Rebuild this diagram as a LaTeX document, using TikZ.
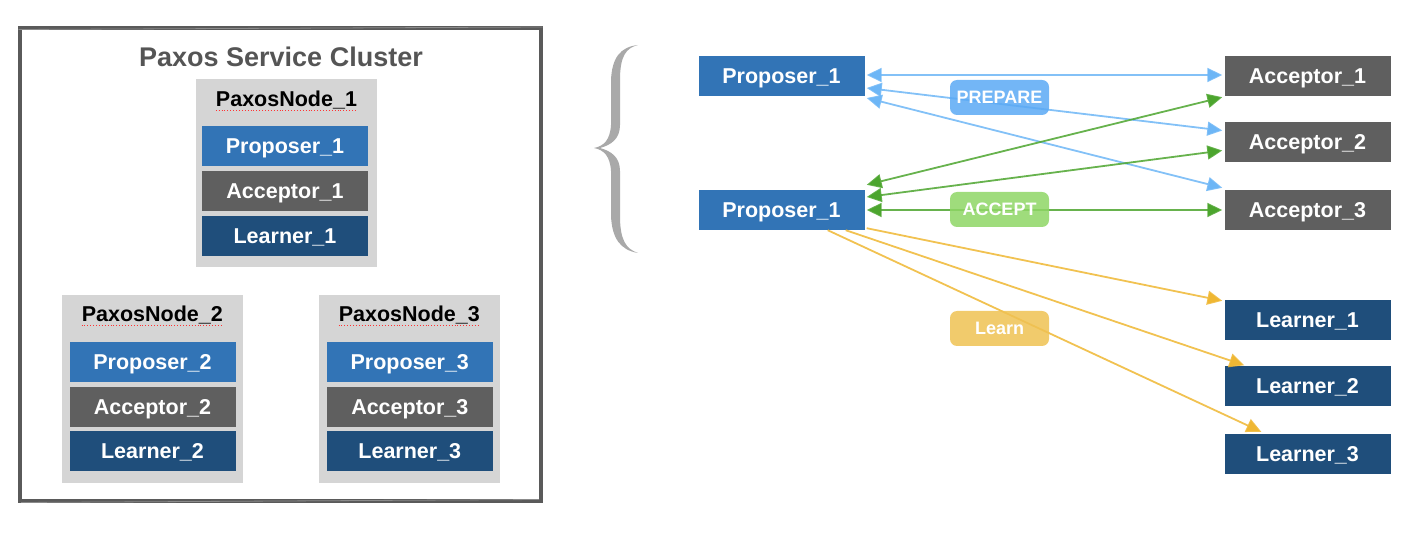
\documentclass[tikz,border=0pt]{standalone}
\usepackage{fontspec}
\setmainfont{Liberation Sans}
\usetikzlibrary{arrows.meta,calc}
\definecolor{propc}{HTML}{3274B6}
\definecolor{accc}{HTML}{5F5F5F}
\definecolor{learnc}{HTML}{1F4E7B}
\definecolor{nodebg}{HTML}{D5D5D5}
\definecolor{framec}{HTML}{5A5A5A}
\definecolor{titlec}{HTML}{555555}
\definecolor{prepc}{HTML}{5AA9F4}
\definecolor{accptc}{HTML}{8ED665}
\definecolor{learnlc}{HTML}{EFC252}
\definecolor{bluearr}{HTML}{6DB6F6}
\definecolor{greenarr}{HTML}{4CA52E}
\definecolor{yelarr}{HTML}{EFB733}
\definecolor{bracec}{HTML}{A9A9A9}
\tikzset{
 rolebox/.style={minimum width=166pt, minimum height=40pt, inner sep=0pt, text=white, text height=15pt, text depth=0pt, font=\fontsize{21.5}{26}\selectfont\bfseries},
 prop/.style={rolebox, fill=propc},
 acc/.style={rolebox, fill=accc},
 lrn/.style={rolebox, fill=learnc},
 pnode/.style={fill=nodebg, minimum width=181pt, minimum height=188pt, inner sep=0pt},
 plabel/.style={font=\fontsize{21.5}{26}\selectfont\bfseries, inner sep=0pt, text height=15pt, text depth=0pt},
 msg/.style={rounded corners=7pt, minimum width=99pt, minimum height=35pt, inner sep=0pt, text=white, text height=12.5pt, text depth=0pt, font=\fontsize{18}{20}\selectfont\bfseries, fill opacity=0.85, text opacity=1},
 arr/.style={line width=1.8pt, draw opacity=0.85},
 spell/.style={draw=red!80, dotted, line width=0.9pt},
 >={Triangle[length=15pt,width=14pt]},
}
\begin{document}
\begin{tikzpicture}[x=1pt,y=-1pt]
\useasboundingbox (0,0) rectangle (1414,534);
% outer cluster frame
\draw[framec, line width=3.2pt] (20,28) rectangle (541,501);
\draw[framec!70, line width=0.8pt] (18.5,29.5) -- (542.5,27) (21,502.5) -- (539,499.5);
\node[font=\fontsize{27}{32}\selectfont\bfseries, text=titlec] (title) at (281,57) {Paxos Service Cluster};
% Paxos node 1
\node[pnode] (n1) at (286.5,173.5) {};
\node[plabel] (l1) at (286.5,99) {PaxosNode\_1};
\node[prop] (n1p) at (285,146.5) {Proposer\_1};
\node[acc]  (n1a) at (285,191.3) {Acceptor\_1};
\node[lrn]  (n1l) at (285,235.8) {Learner\_1};
% Paxos node 2
\node[pnode] (n2) at (152.3,389) {};
\node[plabel] (l2) at (152.3,314) {PaxosNode\_2};
\node[prop] (n2p) at (152.5,362.3) {Proposer\_2};
\node[acc]  (n2a) at (152.5,406.7) {Acceptor\_2};
\node[lrn]  (n2l) at (152.5,451.3) {Learner\_2};
% Paxos node 3
\node[pnode] (n3) at (409.3,389) {};
\node[plabel] (l3) at (409.3,314) {PaxosNode\_3};
\node[prop] (n3p) at (409.8,362.3) {Proposer\_3};
\node[acc]  (n3a) at (409.8,406.7) {Acceptor\_3};
\node[lrn]  (n3l) at (409.8,451.3) {Learner\_3};
% spell-check underlines
\foreach \l in {l1,l2,l3}{
  \draw[spell] ($(\l.base west)+(0,4)$) -- ($(\l.base east)+(0,4)$);
}
% brace
\fill[bracec] (638,45) .. controls (620,47) and (612,58) .. (611,80) -- (611,125)
  .. controls (610,140) and (604,146) .. (594,148)
  .. controls (604,150) and (610,156) .. (611,171) -- (611,216)
  .. controls (612,238) and (620,250) .. (638,253)
  .. controls (626,249) and (620,240) .. (620,216) -- (620,171)
  .. controls (620,157) and (611,151) .. (600,148)
  .. controls (611,145) and (620,139) .. (620,125) -- (620,80)
  .. controls (620,56) and (626,48) .. (638,45) -- cycle;
% right side roles
\node[prop] (pa) at (781.5,76) {Proposer\_1};
\node[prop] (pb) at (781.5,210) {Proposer\_1};
\node[acc] (a1) at (1307.5,76) {Acceptor\_1};
\node[acc] (a2) at (1307.5,142.5) {Acceptor\_2};
\node[acc] (a3) at (1307.5,210) {Acceptor\_3};
\node[lrn] (r1) at (1307.5,320) {Learner\_1};
\node[lrn] (r2) at (1307.5,386.5) {Learner\_2};
\node[lrn] (r3) at (1307.5,454) {Learner\_3};
% message arrows
\draw[arr, bluearr, <->] ($(pa.east)+(2,-1)$) -- ($(a1.west)+(-2,-1)$);
\draw[arr, bluearr, <->] ($(pa.east)+(2,12)$) -- ($(a2.west)+(-2,-12)$);
\draw[arr, bluearr, <->] ($(pa.east)+(2,22)$) -- ($(a3.north west)+(-2,-2)$);
\draw[arr, greenarr, <->] ($(pb.north east)+(2,-5)$) -- ($(a1.south west)+(-2,1)$);
\draw[arr, greenarr, <->] ($(pb.east)+(2,-13)$) -- ($(a2.west)+(-2,8)$);
\draw[arr, greenarr, <->] ($(pb.east)+(2,0)$) -- ($(a3.west)+(-2,0)$);
\draw[arr, yelarr, ->] ($(pb.south east)+(2,-2)$) -- ($(r1.north west)+(-2,1)$);
\draw[arr, yelarr, ->] ($(pb.south east)+(-19,0)$) -- ($(r2.north west)+(20,-1)$);
\draw[arr, yelarr, ->] ($(pb.south east)+(-37,0)$) -- ($(r3.north west)+(37,-2)$);
% message labels
\node[msg, fill=prepc] (mprep) at (999.5,97.5) {PREPARE};
\node[msg, fill=accptc] (macc) at (999.5,209.5) {ACCEPT};
\node[msg, fill=learnlc] (mlrn) at (999.5,328.5) {Learn};
\end{tikzpicture}
\end{document}
